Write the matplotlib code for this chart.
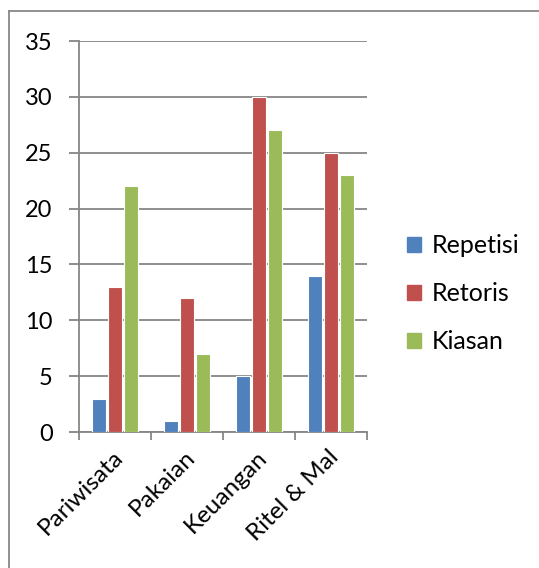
import numpy as np
import matplotlib.pyplot as plt
from matplotlib.lines import Line2D

plt.rcParams['font.family'] = ['Lato', 'DejaVu Sans']

# --- data ---
categories = ['Pariwisata', 'Pakaian', 'Keuangan', 'Ritel & Mal']
repetisi = [3, 1, 5, 14]
retoris = [13, 12, 30, 25]
kiasan = [22, 7, 27, 23]
series_names = ['Repetisi', 'Retoris', 'Kiasan']
colors = ['#4F81BD', '#C0504D', '#9BBB59']

fig = plt.figure(figsize=(5.39, 5.68), dpi=100)
ax = fig.add_axes([0.1466, 0.2394, 0.5344, 0.6884])

x = np.arange(len(categories))
w = 0.2
step = 0.222
for i, (vals, name, c) in enumerate(zip([repetisi, retoris, kiasan], series_names, colors)):
    ax.bar(x + (i - 1) * step, vals, width=w, color=c, edgecolor='white',
           linewidth=0.8, label=name, zorder=3)

ax.set_xlim(-0.5, len(categories) - 0.5)
ax.set_ylim(0, 35)
ax.set_yticks(range(0, 36, 5))
ax.yaxis.grid(True, color='#868686', linewidth=1.3, zorder=0)
ax.set_axisbelow(True)

for s in ['top', 'right']:
    ax.spines[s].set_visible(False)
for s in ['left', 'bottom']:
    ax.spines[s].set_color('#868686')
    ax.spines[s].set_linewidth(1.3)

# category boundary ticks
ax.set_xticks(np.arange(-0.5, len(categories), 1.0))
ax.set_xticklabels([])
ax.tick_params(axis='x', length=6, width=1.3, color='#868686', direction='out')
ax.tick_params(axis='y', length=7, width=1.3, color='#868686', direction='out',
               labelsize=17, pad=12)

for xi, cat in zip(x, categories):
    ax.text(xi - 0.04, -1.3, cat, rotation=45, ha='right', va='top',
            rotation_mode='anchor', fontsize=17.5)

handles = [plt.Rectangle((0, 0), 1, 1, color=c) for c in colors]
fig.legend(handles, series_names, loc='center left', bbox_to_anchor=(0.713, 0.483),
           frameon=False, fontsize=18, handlelength=0.55, handleheight=0.55,
           handletextpad=0.45, labelspacing=1.0)

# chart border (top and left edges visible)
fig.add_artist(Line2D([9 / 539, 9 / 539], [0, 1 - 11 / 568], color='#888888', linewidth=1.3))
fig.add_artist(Line2D([9 / 539, 1], [1 - 11 / 568, 1 - 11 / 568], color='#888888', linewidth=1.3))

fig.savefig('out.png', dpi=100)
